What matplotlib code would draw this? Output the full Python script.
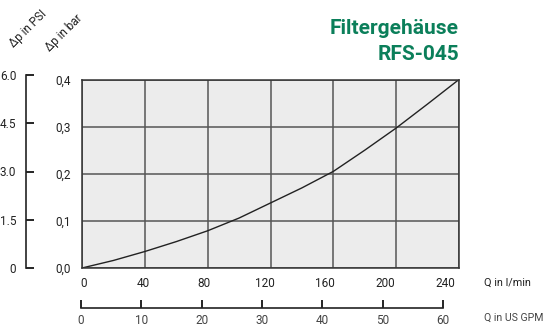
import matplotlib.pyplot as plt
import matplotlib.transforms as mtransforms

# flow in l/min and pressure drop in bar
q_lmin = [0, 20, 40, 60, 80, 100, 120, 140, 160, 180, 200, 220, 240]
dp_bar = [0, 0.016, 0.035, 0.056, 0.079, 0.106, 0.138, 0.170, 0.205, 0.250, 0.297, 0.348, 0.4]

x_ticks = [0, 40, 80, 120, 160, 200, 240]
bar_ticks = [0.0, 0.1, 0.2, 0.3, 0.4]
bar_labels = ["0,0", "0,1", "0,2", "0,3", "0,4"]
psi_ticks = [0, 1.5, 3.0, 4.5, 6.0]
psi_labels = ["0", "1.5", "3.0", "4.5", "6.0"]
gpm_ticks = [0, 10, 20, 30, 40, 50, 60]
LMIN_PER_GPM = 4

W, H = 546, 331
FONT = ["Roboto", "DejaVu Sans"]
plt.rcParams["font.family"] = FONT
GREEN = "#0b7f5a"
TXT = "#222222"


def box(x0, y0, x1, y1):
    # pixel box (top-left origin) -> figure fraction
    return [x0 / W, 1 - y1 / H, (x1 - x0) / W, (y1 - y0) / H]


fig = plt.figure(figsize=(W / 100, H / 100), dpi=100)

# main chart
ax = fig.add_axes(box(82, 79.5, 459, 268))
ax.set_facecolor("#ececec")
ax.plot(q_lmin, dp_bar, color="#222222", lw=1.0)
ax.set_xlim(0, 240)
ax.set_ylim(0, 0.4)
ax.set_xticks(x_ticks, [])
ax.set_yticks(bar_ticks, bar_labels)
ax.grid(True, color="#555555", lw=1.1)
ax.set_axisbelow(True)
for s in ax.spines.values():
    s.set_color("#333333")
    s.set_linewidth(1.1)
ax.tick_params(length=0, labelsize=8.5, labelcolor=TXT)
ax.tick_params(axis="y", pad=8)

# US GPM scale
axg = fig.add_axes(box(81, 303, 443, 308))
axg.set_xlim(0, 60)
axg.set_yticks([])
axg.set_xticks(gpm_ticks)
for k in ["top", "right", "left"]:
    axg.spines[k].set_visible(False)
axg.spines["bottom"].set_linewidth(1.2)
axg.spines["bottom"].set_color("#222222")
axg.tick_params(axis="x", direction="in", length=6, width=1.2, pad=4,
                labelsize=8.5, labelcolor="#444444")
axg.patch.set_alpha(0)
fig.text(484 / W, 1 - 318 / H, "Q in US GPM", fontsize=7.6, color="#444444",
         va="center", ha="left")

# l/min labels sit above the GPM ticks in the original
trans = mtransforms.blended_transform_factory(axg.transData, ax.transAxes)
for q in x_ticks:
    ax.text(q / LMIN_PER_GPM + 0.4, -0.08, str(q), transform=trans,
            fontsize=8.5, color=TXT, ha="center", va="center")
fig.text(484 / W, 1 - 283 / H, "Q in l/min", fontsize=7.8, color=TXT,
         va="center", ha="left")

# PSI scale
axp = fig.add_axes(box(26, 75, 30, 268))
axp.set_ylim(0, 6)
axp.set_xticks([])
axp.set_yticks(psi_ticks, psi_labels)
for k in ["top", "right", "bottom"]:
    axp.spines[k].set_visible(False)
axp.spines["left"].set_linewidth(1.2)
axp.spines["left"].set_color("#222222")
axp.tick_params(axis="y", direction="in", length=5.5, width=1.2, pad=7,
                labelsize=8.5, labelcolor=TXT)
axp.patch.set_alpha(0)

# rotated axis names
fig.text(28 / W, 1 - 29 / H, "Δp in PSI", rotation=45, fontsize=8.5,
         color=TXT, ha="center", va="center", rotation_mode="anchor")
fig.text(64 / W, 1 - 33 / H, "Δp in bar", rotation=45, fontsize=8.5,
         color=TXT, ha="center", va="center", rotation_mode="anchor")

# title
fig.text(459 / W, 1 - 29 / H, "Filtergehäuse", fontsize=15, fontweight="bold",
         color=GREEN, ha="right", va="center")
fig.text(459 / W, 1 - 55 / H, "RFS-045", fontsize=15, fontweight="bold",
         color=GREEN, ha="right", va="center")

fig.savefig("out.png", dpi=100)
